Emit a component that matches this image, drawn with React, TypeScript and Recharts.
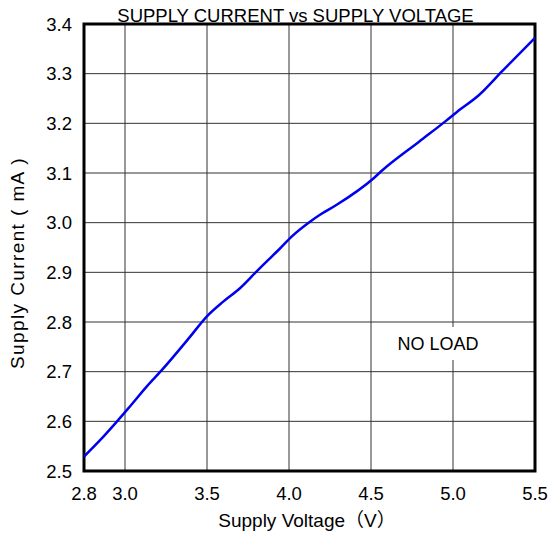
import {
  LineChart,
  Line,
  XAxis,
  YAxis,
  CartesianGrid,
  ReferenceArea,
} from "recharts";

// supply voltage (V) and supply current (mA)
const VOLTAGE = [
  2.75, 2.848, 2.949, 3.02, 3.132, 3.224, 3.396, 3.498, 3.599, 3.701, 3.809, 3.874, 3.945,
  4.016, 4.128, 4.189, 4.291, 4.518, 4.571, 4.793, 4.957, 5.024, 5.159, 5.303, 5.5,
];
const CURRENT = [
  2.529, 2.562, 2.599, 2.626, 2.67, 2.703, 2.77, 2.811, 2.841, 2.868, 2.904, 2.925, 2.948,
  2.972, 3.002, 3.016, 3.036, 3.09, 3.106, 3.163, 3.205, 3.223, 3.257, 3.306, 3.372,
];

const X_TICKS = [2.75, 3.0, 3.5, 4.0, 4.5, 5.0, 5.5];
const Y_TICKS = [2.5, 2.6, 2.7, 2.8, 2.9, 3.0, 3.1, 3.2, 3.3, 3.4];

const TITLE = "SUPPLY CURRENT vs SUPPLY VOLTAGE";
const X_LABEL = "Supply Voltage（V）";
const Y_LABEL = "Supply Current ( mA )";
const NOTE = "NO LOAD";

const data = VOLTAGE.map((v, i) => ({ v, i: CURRENT[i] }));

const FONT = "'Liberation Sans', Arial, 'Noto Sans CJK SC', sans-serif";
const GRID = "#333";

export default function App() {
  // pinned to the page corner so the chart fills the 552x535 window
  return (
    <div
      style={{
        position: "absolute",
        left: 0,
        top: 0,
        width: 552,
        height: 535,
        overflow: "hidden",
        background: "#fff",
      }}
    >
      <LineChart
        width={552}
        height={535}
        data={data}
        margin={{ top: 24, right: 17, bottom: 0, left: 0 }}
        style={{ fontFamily: FONT }}
      >
        <CartesianGrid stroke={GRID} strokeWidth={1} />
        <XAxis
          dataKey="v"
          type="number"
          domain={[2.75, 5.5]}
          ticks={X_TICKS}
          tickFormatter={(v: number) => v.toFixed(1)}
          height={64}
          tickSize={0}
          tickMargin={16}
          axisLine={false}
          tick={{ fontSize: 18.5, fill: "#000" }}
        />
        <YAxis
          type="number"
          domain={[2.5, 3.4]}
          ticks={Y_TICKS}
          tickFormatter={(v: number) => v.toFixed(1)}
          width={84}
          tickSize={0}
          tickMargin={12}
          axisLine={false}
          tick={{ fontSize: 18.5, fill: "#000" }}
        />
        <ReferenceArea
          x1={2.75}
          x2={5.5}
          y1={2.5}
          y2={3.4}
          fill="none"
          stroke="#000"
          strokeWidth={3}
          fillOpacity={0}
        />
        <Line
          dataKey="i"
          type="monotone"
          stroke="#0000f0"
          strokeWidth={2.5}
          dot={false}
          isAnimationActive={false}
        />
        <rect x={392} y={327} width={92} height={33} fill="#fff" />
        <text x={438} y={350} textAnchor="middle" fontSize={18} fill="#000">
          {NOTE}
        </text>
        <text x={295.5} y={22} textAnchor="middle" fontSize={18.5} fill="#000">
          {TITLE}
        </text>
        <text x={307} y={527} textAnchor="middle" fontSize={19} fill="#000">
          {X_LABEL}
        </text>
        <text
          x={24}
          y={263}
          textAnchor="middle"
          fontSize={19}
          letterSpacing={1.4}
          fill="#000"
          transform="rotate(-90 24 263)"
        >
          {Y_LABEL}
        </text>
      </LineChart>
    </div>
  );
}
